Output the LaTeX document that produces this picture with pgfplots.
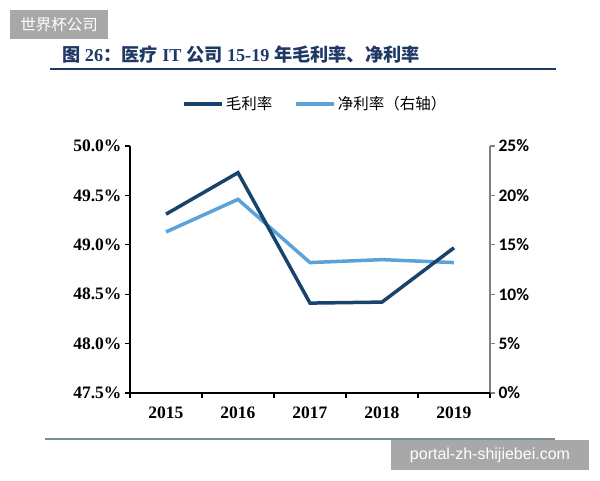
\documentclass[border=0pt]{standalone}
\usepackage{fontspec}
\setmainfont{Liberation Serif}
\newfontfamily\cjk{Noto Sans CJK SC}
\newfontfamily\carlito{Carlito}
\newfontfamily\wsans{Liberation Sans}
\usepackage{pgfplots}
\pgfplotsset{compat=1.18}
\definecolor{darkl}{RGB}{24,68,108}
\definecolor{lightl}{RGB}{91,162,217}
\definecolor{titleblue}{RGB}{31,56,100}
\definecolor{wmgrey}{RGB}{168,168,168}
\definecolor{axgrey}{RGB}{128,128,128}
\definecolor{botline}{RGB}{120,140,150}
\begin{document}
\begin{tikzpicture}[x=1pt,y=1pt]
\path (0,0) rectangle (600,480);
% watermark top-left
\fill[wmgrey] (10,441) rectangle (108,470);
\node[white, font=\cjk\fontsize{15.5}{18}\selectfont, inner sep=0] at (59,455.5) {世界杯公司};
% title
\node[anchor=west, text=titleblue, font=\fontsize{18.2}{21}\selectfont\bfseries, inner sep=0] at (62,425) {{\cjk 图} 26{\cjk ：医疗} IT {\cjk 公司} 15-19 {\cjk 年毛利率、净利率}};
\draw[titleblue, line width=2] (50,410.5) -- (556,410.5);
% bottom line and watermark
\draw[botline, line width=1.5] (45,41) -- (555,41);
\fill[wmgrey] (391,10) rectangle (589,40);
\node[white, font=\wsans\fontsize{16}{18}\selectfont, inner sep=0] at (490,25) {portal-zh-shijiebei.com};

% right axis: net margin
\begin{axis}[
  scale only axis, width=360pt, height=247pt, at={(130pt,87pt)}, anchor=south west,
  xmin=-0.5, xmax=4.5, ymin=0, ymax=25,
  axis x line=none, axis y line*=right,
  ytick={0,5,10,15,20,25},
  yticklabel={\pgfmathprintnumber{\tick}\%},
  /pgf/number format/assume math mode=true,
  yticklabel style={font=\carlito\fontsize{17.5}{20}\selectfont\bfseries, black},
  y axis line style={axgrey, line width=1.2pt},
  ytick style={axgrey, line width=1.2pt},
  tick align=outside, major tick length=5pt,
]
\addplot[lightl, line width=3.5pt] coordinates {(0,16.3) (1,19.6) (2,13.2) (3,13.5) (4,13.2)};
\end{axis}

% left axis: gross margin
\begin{axis}[
  scale only axis, width=360pt, height=247pt, at={(130pt,87pt)}, anchor=south west,
  xmin=-0.5, xmax=4.5, ymin=47.5, ymax=50,
  axis x line*=bottom, axis y line*=left,
  xtick={0,1,2,3,4}, xticklabels={2015,2016,2017,2018,2019},
  major x tick style={draw=none},
  minor xtick={-0.5,0.5,1.5,2.5,3.5,4.5},
  ytick={47.5,48,48.5,49,49.5,50},
  yticklabel={\pgfmathprintnumber[fixed,fixed zerofill,precision=1]{\tick}\%},
  /pgf/number format/assume math mode=true,
  ticklabel style={font=\fontsize{17.5}{20}\selectfont\bfseries, black},
  axis line style={black, line width=1.2pt},
  tick style={black, line width=1.2pt},
  tick align=outside, major tick length=5pt, minor tick length=5pt,
  xticklabel style={yshift=-5pt},
  legend style={at={(0.515,1.170)}, anchor=center, draw=none, fill=none,
    legend columns=2, font=\cjk\fontsize{15.5}{18}\selectfont,
    /tikz/every even column/.append style={column sep=20pt}},
  legend image code/.code={\draw[#1] (0pt,0pt) -- (38pt,0pt);},
]
\addplot[darkl, line width=3.5pt] coordinates {(0,49.31) (1,49.73) (2,48.41) (3,48.42) (4,48.97)};
\addlegendentry{毛利率}
\addlegendimage{lightl, line width=3.5pt}
\addlegendentry{净利率（右轴）}
\end{axis}
\end{tikzpicture}
\end{document}
